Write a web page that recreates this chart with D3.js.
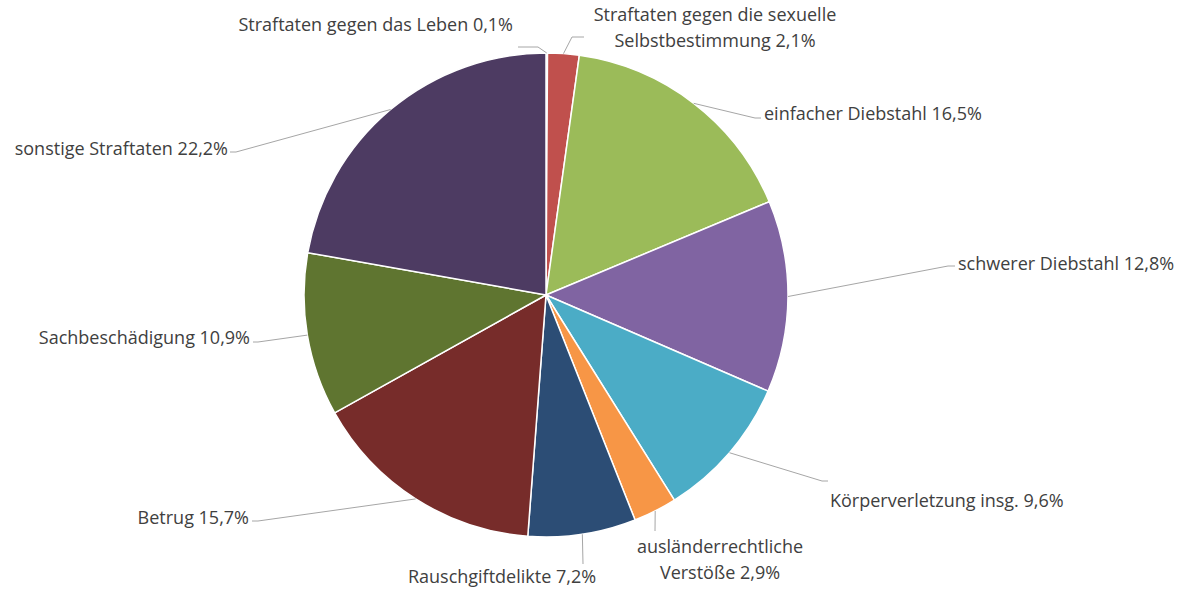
<!DOCTYPE html>
<html>
<head>
<meta charset="utf-8">
<script src="https://cdn.jsdelivr.net/npm/d3@7"></script>
<style>
  body { margin: 0; background: #fff; }
  svg { display: block; }
  .label { font-family: "Open Sans", sans-serif; font-size: 18px; fill: #404040; }
  .leader { fill: none; stroke: #a6a6a6; stroke-width: 1; }
</style>
</head>
<body>
<svg id="chart" width="1183" height="589"></svg>
<script>
// data, clockwise from 12 o'clock
const categories = [
  "Straftaten gegen das Leben",
  "Straftaten gegen die sexuelle Selbstbestimmung",
  "einfacher Diebstahl",
  "schwerer Diebstahl",
  "Körperverletzung insg.",
  "ausländerrechtliche Verstöße",
  "Rauschgiftdelikte",
  "Betrug",
  "Sachbeschädigung",
  "sonstige Straftaten"
];
const shares = [0.1, 2.1, 16.5, 12.8, 9.6, 2.9, 7.2, 15.7, 10.9, 22.2];
const colors = [
  "#4f81bd", "#c0504d", "#9bbb59", "#8064a2", "#4bacc6",
  "#f79646", "#2c4d75", "#772c2a", "#5f7530", "#4d3b62"
];
// how each label text is broken into lines
const labelLines = [
  ["Straftaten gegen das Leben 0,1%"],
  ["Straftaten gegen die sexuelle", "Selbstbestimmung 2,1%"],
  ["einfacher Diebstahl 16,5%"],
  ["schwerer Diebstahl 12,8%"],
  ["Körperverletzung insg. 9,6%"],
  ["ausländerrechtliche", "Verstöße 2,9%"],
  ["Rauschgiftdelikte 7,2%"],
  ["Betrug 15,7%"],
  ["Sachbeschädigung 10,9%"],
  ["sonstige Straftaten 22,2%"]
];

// label placement (layout only): elbow of leader, end of leader, text anchor point
const labelLayout = [
  { elbow: [538, 47], end: [518, 47], text: [513, 31], anchor: "end" },
  { elbow: [572, 37], end: [584, 37], text: [715, 21], anchor: "middle" },
  { elbow: [755, 118], end: [761, 118], text: [764, 120], anchor: "start" },
  { elbow: [948, 266], end: [955, 266], text: [958, 270], anchor: "start" },
  { elbow: [822, 481], end: [828, 481], text: [830, 507], anchor: "start" },
  { elbow: [655, 531], end: [655, 531], text: [720, 553], anchor: "middle" },
  { elbow: [583, 564], end: [583, 564], text: [502, 583], anchor: "middle" },
  { elbow: [258, 521], end: [252, 521], text: [249, 524], anchor: "end" },
  { elbow: [258, 342], end: [253, 342], text: [250, 344], anchor: "end" },
  { elbow: [236, 152], end: [230, 152], text: [228, 155], anchor: "end" }
];

const cx = 546;
const cy = 295;
const radius = 242;

const svg = d3.select("#chart");
const data = categories.map((c, i) => ({ name: c, value: shares[i], i }));

const pie = d3.pie().value(d => d.value).sort(null);
const arc = d3.arc().innerRadius(0).outerRadius(radius);
const arcs = pie(data);

const g = svg.append("g").attr("transform", `translate(${cx},${cy})`);

g.selectAll("path.slice")
  .data(arcs)
  .enter()
  .append("path")
  .attr("class", "slice")
  .attr("d", arc)
  .attr("fill", d => colors[d.data.i])
  .attr("stroke", "#fff")
  .attr("stroke-width", 1.5)
  .attr("stroke-linejoin", "round");

// leader lines from slice edge at mid angle
const edgePoint = d => {
  const a = (d.startAngle + d.endAngle) / 2;
  return [cx + radius * Math.sin(a), cy - radius * Math.cos(a)];
};

svg.selectAll("polyline.leader")
  .data(arcs)
  .enter()
  .append("polyline")
  .attr("class", "leader")
  .attr("points", d => {
    const l = labelLayout[d.data.i];
    return [edgePoint(d), l.elbow, l.end].map(p => p.join(",")).join(" ");
  });

const labels = svg.selectAll("text.label")
  .data(arcs)
  .enter()
  .append("text")
  .attr("class", "label")
  .attr("text-anchor", d => labelLayout[d.data.i].anchor)
  .attr("x", d => labelLayout[d.data.i].text[0])
  .attr("y", d => labelLayout[d.data.i].text[1]);

labels.selectAll("tspan")
  .data(d => labelLines[d.data.i].map(t => ({ t, x: labelLayout[d.data.i].text[0] })))
  .enter()
  .append("tspan")
  .attr("x", d => d.x)
  .attr("dy", (d, j) => (j === 0 ? 0 : 26))
  .text(d => d.t);
</script>
</body>
</html>
